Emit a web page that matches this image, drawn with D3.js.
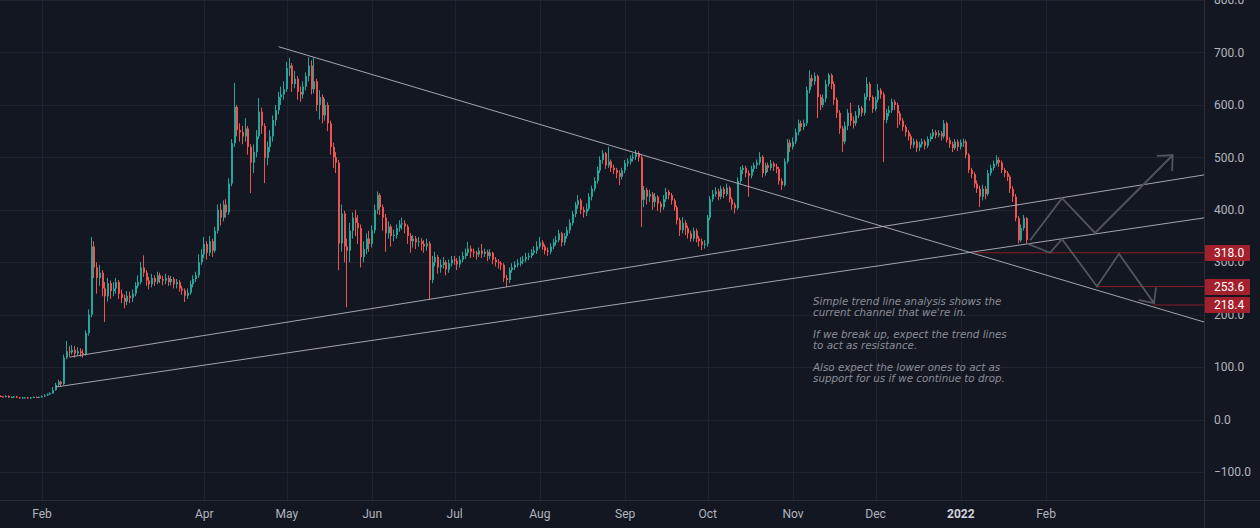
<!DOCTYPE html>
<html><head><meta charset="utf-8">
<script src="https://cdn.jsdelivr.net/npm/d3@7"></script>
<style>html,body{margin:0;padding:0;background:#131722;overflow:hidden}</style>
</head><body><svg id="c" width="1260" height="528"></svg>
<script>
// ---------------- data ----------------
const startDate = "2021-01-17";
const firstOpen = 45;
const closes = [
44,43,45,42,43,44,42,41,42,42,41,42,43,42,43,44,
46,48,50,56,66,72,68,
118,130,128,133,126,130,127,125,
165,200,330,290,270,
280,250,235,260,245,
250,262,240,232,225,236,232,
240,255,262,290,
280,265,258,270,262,275,268,265,
270,262,268,258,262,250,246,236,
242,258,268,275,300,
315,335,318,340,
322,360,400,385,410,395,450,527,596,552,
548,540,555,520,490,510,540,587,560,499,
520,540,571,590,615,620,630,670,675,
640,650,625,620,635,655,675,630,645,600,615,580,600,
565,520,500,490,336,393,330,322,360,385,375,365,
310,325,345,335,361,400,428,405,385,355,368,350,
352,365,372,374,368,350,340,345,338,340,335,330,336,266,
300,310,290,295,300,286,298,305,303,296,305,
312,318,326,320,318,315,322,316,320,312,318,305,300,
298,295,270,266,285,290,295,298,302,305,310,312,318,322,
330,338,330,322,320,330,338,342,355,338,350,361,
375,392,409,418,400,395,402,425,440,455,
475,495,508,485,492,480,476,470,463,475,489,492,498,501,508,500,419,
438,425,430,415,425,412,405,420,434,428,418,405,
380,361,375,365,355,345,360,345,340,333,335,
385,420,430,435,425,440,430,442,420,410,403,
455,476,480,470,465,478,485,490,501,470,485,480,488,482,
478,455,447,492,528,520,530,548,565,558,565,628,651,
645,655,615,600,612,640,657,640,610,585,555,530,
560,585,570,565,580,594,585,615,640,615,592,610,628,620,
571,585,590,606,600,584,570,558,548,540,524,530,518,
525,530,522,535,540,548,542,546,540,565,533,525,518,530,520,528,530,
505,476,468,450,440,425,440,430,470,480,488,495,490,476,470,463,
440,425,384,342,365,384,342
];
const highs = [
46,45,46,46,44,45,45,43,43,43,43,43,44,44,44,46,
48,50,52,62,70,76,74,
124,150,140,142,140,138,136,134,
170,210,348,340,300,
295,285,262,270,265,
262,270,266,248,238,245,244,
248,262,275,300,
313,285,272,278,275,282,280,274,
278,275,274,272,268,266,255,250,
250,265,275,282,315,
325,348,340,350,
345,368,410,412,418,420,460,535,642,600,
565,560,575,560,525,525,552,613,595,565,
530,552,580,600,625,635,645,682,690,
680,665,655,635,645,662,691,685,690,650,628,620,612,
605,570,528,510,495,410,398,345,375,395,400,390,
372,340,355,360,370,410,435,432,410,392,378,372,
362,372,380,385,380,372,356,352,350,348,346,342,345,340,
312,320,314,305,310,304,305,312,312,308,312,
320,326,339,332,326,322,328,335,326,324,325,320,310,
306,302,298,276,290,298,302,306,310,312,318,318,325,330,
340,348,342,334,328,336,345,350,362,358,356,368,
382,398,415,428,422,406,412,432,446,462,
482,502,514,510,520,496,486,480,475,480,495,498,504,508,514,512,504,
445,442,438,434,432,428,416,428,442,438,432,422,
408,385,386,380,370,360,366,364,350,345,342,
390,426,438,443,440,446,444,450,445,424,414,
462,482,485,484,475,484,490,496,510,504,490,490,495,492,
488,482,460,498,535,534,538,555,572,570,572,635,666,
658,662,658,620,620,648,661,660,645,614,590,560,
568,592,604,578,588,600,598,622,653,644,618,616,640,632,
624,592,598,612,610,604,588,575,562,552,544,536,534,
530,536,534,540,546,554,552,552,550,571,568,538,530,535,534,534,536,
534,508,480,472,456,446,448,445,476,486,494,504,500,494,480,474,
466,445,430,388,372,390,386
];
const lows = [
43,42,42,41,41,42,41,40,40,41,40,40,41,41,41,42,
43,45,47,49,55,64,63,
66,115,120,124,118,122,120,118,
122,160,195,270,240,
255,235,186,225,230,
235,240,230,222,212,218,222,
224,235,250,258,
272,255,248,252,255,258,260,256,
258,255,256,250,250,244,238,224,
230,238,252,262,270,
295,308,305,312,
310,318,355,370,378,385,390,445,520,540,
530,525,530,505,432,470,500,535,545,451,
485,510,530,560,582,600,610,625,655,
625,632,610,606,612,628,645,620,622,588,572,565,570,
550,505,480,470,285,320,300,214,300,345,350,335,
290,300,315,320,328,355,392,390,360,320,345,330,
340,345,358,362,355,335,318,328,325,330,322,318,322,228,
260,292,278,280,288,275,280,292,295,285,290,
300,306,312,308,310,305,310,308,310,302,306,296,292,
288,285,262,253,260,280,285,290,292,296,300,304,308,314,
316,326,324,315,312,315,325,332,338,330,332,345,
355,370,386,402,392,385,388,398,418,435,
450,470,488,478,480,472,468,460,447,458,470,482,486,492,495,492,367,
405,410,415,400,405,398,395,400,415,420,410,398,
372,350,355,352,345,339,340,338,330,323,326,
330,380,415,425,418,420,422,426,414,400,393,
400,450,468,462,425,460,472,478,485,462,465,472,475,474,
470,448,438,444,488,510,515,525,542,550,552,560,622,
635,638,575,590,595,605,635,630,600,575,545,510,
525,552,560,555,560,575,578,580,610,608,585,588,605,612,
491,565,578,585,590,556,562,550,540,532,516,518,510,
512,520,515,518,530,535,536,538,532,536,528,518,510,514,512,515,520,
498,470,460,442,432,405,418,420,426,465,475,484,482,470,462,455,
432,415,378,336,338,360,336
];
const priceTicks = [-100,0,100,200,300,400,500,600,700,800];
const timeTicks = ["2021-02-01","2021-04-01","2021-05-01","2021-06-01","2021-07-01","2021-08-01","2021-09-01","2021-10-01","2021-11-01","2021-12-01","2022-01-01","2022-02-01"];
const timeTickLabels = ["Feb","Apr","May","Jun","Jul","Aug","Sep","Oct","Nov","Dec","2022","Feb"];
const trendA = [["2021-04-28",711],["2022-03-31",185]];
const trendB = [["2021-02-11",119],["2022-03-31",467]];
const trendC = [["2021-02-06",62],["2022-03-31",385]];
const pathUp = [["2022-01-26T05:00",342],["2022-02-06T19:00",422],["2022-02-18T19:00",356],["2022-03-19T00:00",504]];
const pathDown = [["2022-01-25T10:00",335],["2022-02-02T10:00",318],["2022-02-06T19:00",344],["2022-02-19T12:00",253.6],["2022-02-27T12:00",316],["2022-03-12T05:00",222]];
const levelValues = [318.0, 253.6, 218.4];
const levelStarts = ["2022-01-06T00:00","2022-02-19T12:00","2022-03-11T20:00"];
const noteLines = ["Simple trend line analysis shows the","current channel that we're in.","","If we break up, expect the trend lines","to act as resistance.","","Also expect the lower ones to act as","support for us if we continue to drop."];
const noteAnchor = ["2021-11-08T07:00", 218];

// ---------------- layout ----------------
const W = 1260, H = 528, plotW = 1204, plotH = 500;
const parse = s => new Date(s.length <= 10 ? s + "T00:00:00Z" : s + ":00Z");
const start = parse(startDate);
const DAY = 864e5;
const x = d3.scaleUtc()
  .domain([new Date(+start - 0.269 * DAY), new Date(+start + 437.4 * DAY)])
  .range([0, plotW]);
const y = d3.scaleLinear().domain([-153.5, 800.1]).range([plotH, 0]);

const svg = d3.select("#c");
svg.append("rect").attr("width", W).attr("height", H).attr("fill", "#131722");
svg.append("defs").append("clipPath").attr("id", "plot")
  .append("rect").attr("width", plotW).attr("height", plotH);

// grid
const grid = svg.append("g").attr("clip-path", "url(#plot)");
grid.selectAll(".hg").data(priceTicks).join("line")
  .attr("x1", 0).attr("x2", plotW)
  .attr("y1", d => Math.round(y(d)) + 0.5).attr("y2", d => Math.round(y(d)) + 0.5)
  .attr("stroke", "#1f2330").attr("stroke-width", 1);
grid.selectAll(".vg").data(timeTicks).join("line")
  .attr("y1", 0).attr("y2", plotH)
  .attr("x1", d => Math.round(x(parse(d))) + 0.5).attr("x2", d => Math.round(x(parse(d))) + 0.5)
  .attr("stroke", "#1f2330").attr("stroke-width", 1);

// candles
const candles = closes.map((c, i) => ({
  date: d3.utcDay.offset(start, i),
  o: i === 0 ? firstOpen : closes[i - 1], c, h: highs[i], l: lows[i]
}));
const cg = svg.append("g").attr("clip-path", "url(#plot)");
candles.forEach(k => {
  const up = k.c >= k.o;
  const col = up ? "#26a69a" : "#ef5350";
  const cx = x(k.date);
  const bx = Math.round(cx - 1);
  const yt = y(Math.max(k.o, k.c)), yb = y(Math.min(k.o, k.c));
  cg.append("rect").attr("x", bx).attr("width", 1)
    .attr("y", y(k.h)).attr("height", Math.max(1, y(k.l) - y(k.h))).attr("fill", col);
  cg.append("rect").attr("x", bx).attr("width", 2)
    .attr("y", yt).attr("height", Math.max(1, yb - yt)).attr("fill", col);
});

// drawings
const dg = svg.append("g").attr("clip-path", "url(#plot)");
const line = d3.line().x(d => x(parse(d[0]))).y(d => y(d[1]));
[trendA, trendB, trendC].forEach(t => {
  dg.append("path").attr("d", line(t)).attr("fill", "none")
    .attr("stroke", "#b2b5be").attr("stroke-width", 1).attr("opacity", 0.9);
});
levelValues.forEach((v, i) => {
  dg.append("line").attr("x1", x(parse(levelStarts[i]))).attr("x2", plotW)
    .attr("y1", y(v)).attr("y2", y(v)).attr("stroke", "#8a1d27").attr("stroke-width", 1);
});
function arrowPath(pts) {
  dg.append("path").attr("d", line(pts)).attr("fill", "none")
    .attr("stroke", "#52555f").attr("stroke-width", 1.8).attr("stroke-linejoin", "miter");
  const a = pts[pts.length - 2], b = pts[pts.length - 1];
  const x1 = x(parse(a[0])), y1 = y(a[1]), x2 = x(parse(b[0])), y2 = y(b[1]);
  const ang = Math.atan2(y2 - y1, x2 - x1) + Math.PI;
  const L = 15, sp = 0.75;
  [ang - sp, ang + sp].forEach(t => {
    dg.append("line").attr("x1", x2).attr("y1", y2)
      .attr("x2", x2 + L * Math.cos(t)).attr("y2", y2 + L * Math.sin(t))
      .attr("stroke", "#52555f").attr("stroke-width", 1.8).attr("stroke-linecap", "round");
  });
}
arrowPath(pathUp);
arrowPath(pathDown);

// note text
const nx = x(parse(noteAnchor[0])), ny = y(noteAnchor[1]);
const note = dg.append("text").attr("font-family", "DejaVu Sans, Verdana, sans-serif")
  .attr("font-size", 10.3).attr("font-style", "italic").attr("fill", "#8a8d97");
let ly = ny;
noteLines.forEach((t, i) => {
  if (t === "") { ly += 12; return; }
  note.append("tspan").attr("x", nx).attr("y", ly).text(t);
  ly += 10.5;
});

// axes frame
svg.append("line").attr("x1", plotW + 0.5).attr("x2", plotW + 0.5).attr("y1", 0).attr("y2", H)
  .attr("stroke", "#2a2e39");
svg.append("line").attr("x1", 0).attr("x2", W).attr("y1", plotH + 0.5).attr("y2", plotH + 0.5)
  .attr("stroke", "#2a2e39");

// price axis labels
svg.append("g").selectAll("text").data(priceTicks).join("text")
  .attr("x", 1214).attr("y", d => y(d)).attr("dy", "0.35em")
  .attr("font-family", "Roboto, sans-serif").attr("font-size", 12)
  .attr("fill", "#b2b5be").text(d => d3.format(".1f")(d).replace("-", "\u2212"));

// time axis labels
svg.append("g").selectAll("text").data(timeTicks).join("text")
  .attr("x", d => x(parse(d))).attr("y", 518).attr("text-anchor", "middle")
  .attr("font-family", "Roboto, sans-serif").attr("font-size", 12)
  .attr("font-weight", (d, i) => timeTickLabels[i] === "2022" ? "bold" : "normal")
  .attr("fill", (d, i) => timeTickLabels[i] === "2022" ? "#d1d4dc" : "#b2b5be")
  .text((d, i) => timeTickLabels[i]);

// level labels
levelValues.forEach(v => {
  const yy = Math.round(y(v));
  svg.append("rect").attr("x", plotW + 1).attr("y", yy - 8).attr("width", 45).attr("height", 16)
    .attr("fill", "#a3202c").attr("rx", 1);
  svg.append("text").attr("x", 1214).attr("y", yy).attr("dy", "0.35em")
    .attr("font-family", "Roboto, sans-serif").attr("font-size", 12)
    .attr("fill", "#ffffff").text(d3.format(".1f")(v));
});
</script></body></html>
